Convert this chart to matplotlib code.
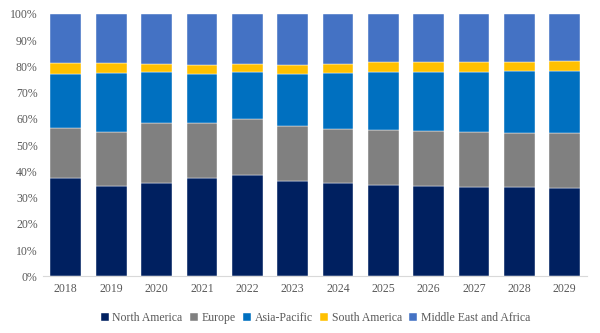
import numpy as np
import matplotlib.pyplot as plt
from matplotlib.ticker import PercentFormatter

plt.rcParams['font.family'] = ['Liberation Serif', 'DejaVu Serif']

years = [str(y) for y in range(2018, 2030)]

# market share by region, percent of total
north_america = [37.4, 34.4, 35.4, 37.4, 38.5, 36.4, 35.4, 35.0, 34.6, 34.2, 34.2, 33.8]
europe        = [19.3, 20.6, 23.1, 21.1, 21.4, 20.9, 20.8, 20.7, 20.7, 20.8, 20.4, 20.8]
asia_pacific  = [20.5, 22.5, 19.5, 18.7, 18.1, 19.9, 21.4, 22.3, 22.7, 23.0, 23.8, 23.8]
south_america = [4.0, 3.7, 2.8, 3.2, 2.8, 3.2, 3.3, 3.6, 3.6, 3.6, 3.2, 3.5]
mea           = [18.8, 18.8, 19.2, 19.6, 19.2, 19.6, 19.1, 18.4, 18.4, 18.4, 18.4, 18.1]

series = [
    ('North America', north_america, '#002060'),
    ('Europe', europe, '#808080'),
    ('Asia-Pacific', asia_pacific, '#0070C0'),
    ('South America', south_america, '#FFC000'),
    ('Middle East and Africa', mea, '#4472C4'),
]

fig = plt.figure(figsize=(6, 3.33), dpi=100)
ax = fig.add_axes([0.072, 0.17, 0.907, 0.788])

x = np.arange(len(years))
bottom = np.zeros(len(years))
for name, vals, color in series:
    vals = np.array(vals)
    ax.bar(x, vals, 0.68, bottom=bottom, color=color, label=name,
           edgecolor='white', linewidth=0.3)
    bottom += vals

ax.set_xlim(-0.5, len(years) - 0.5)
ax.set_ylim(0, 100)
ax.set_yticks(np.arange(0, 101, 10))
ax.yaxis.set_major_formatter(PercentFormatter(decimals=0))
ax.set_xticks(x)
ax.set_xticklabels(years)

for side in ['top', 'right', 'left']:
    ax.spines[side].set_visible(False)
ax.spines['bottom'].set_color('#D9D9D9')
ax.tick_params(axis='both', length=0, labelsize=8.5, colors='#595959')
ax.tick_params(axis='x', pad=5)
ax.tick_params(axis='y', pad=4)

ax.legend(loc='upper center', bbox_to_anchor=(0.5, -0.095), ncol=5, frameon=False,
          fontsize=8.5, handlelength=0.7, handleheight=0.7, handletextpad=0.3,
          columnspacing=0.6, labelcolor='#595959')

fig.savefig('out.png', dpi=100)
